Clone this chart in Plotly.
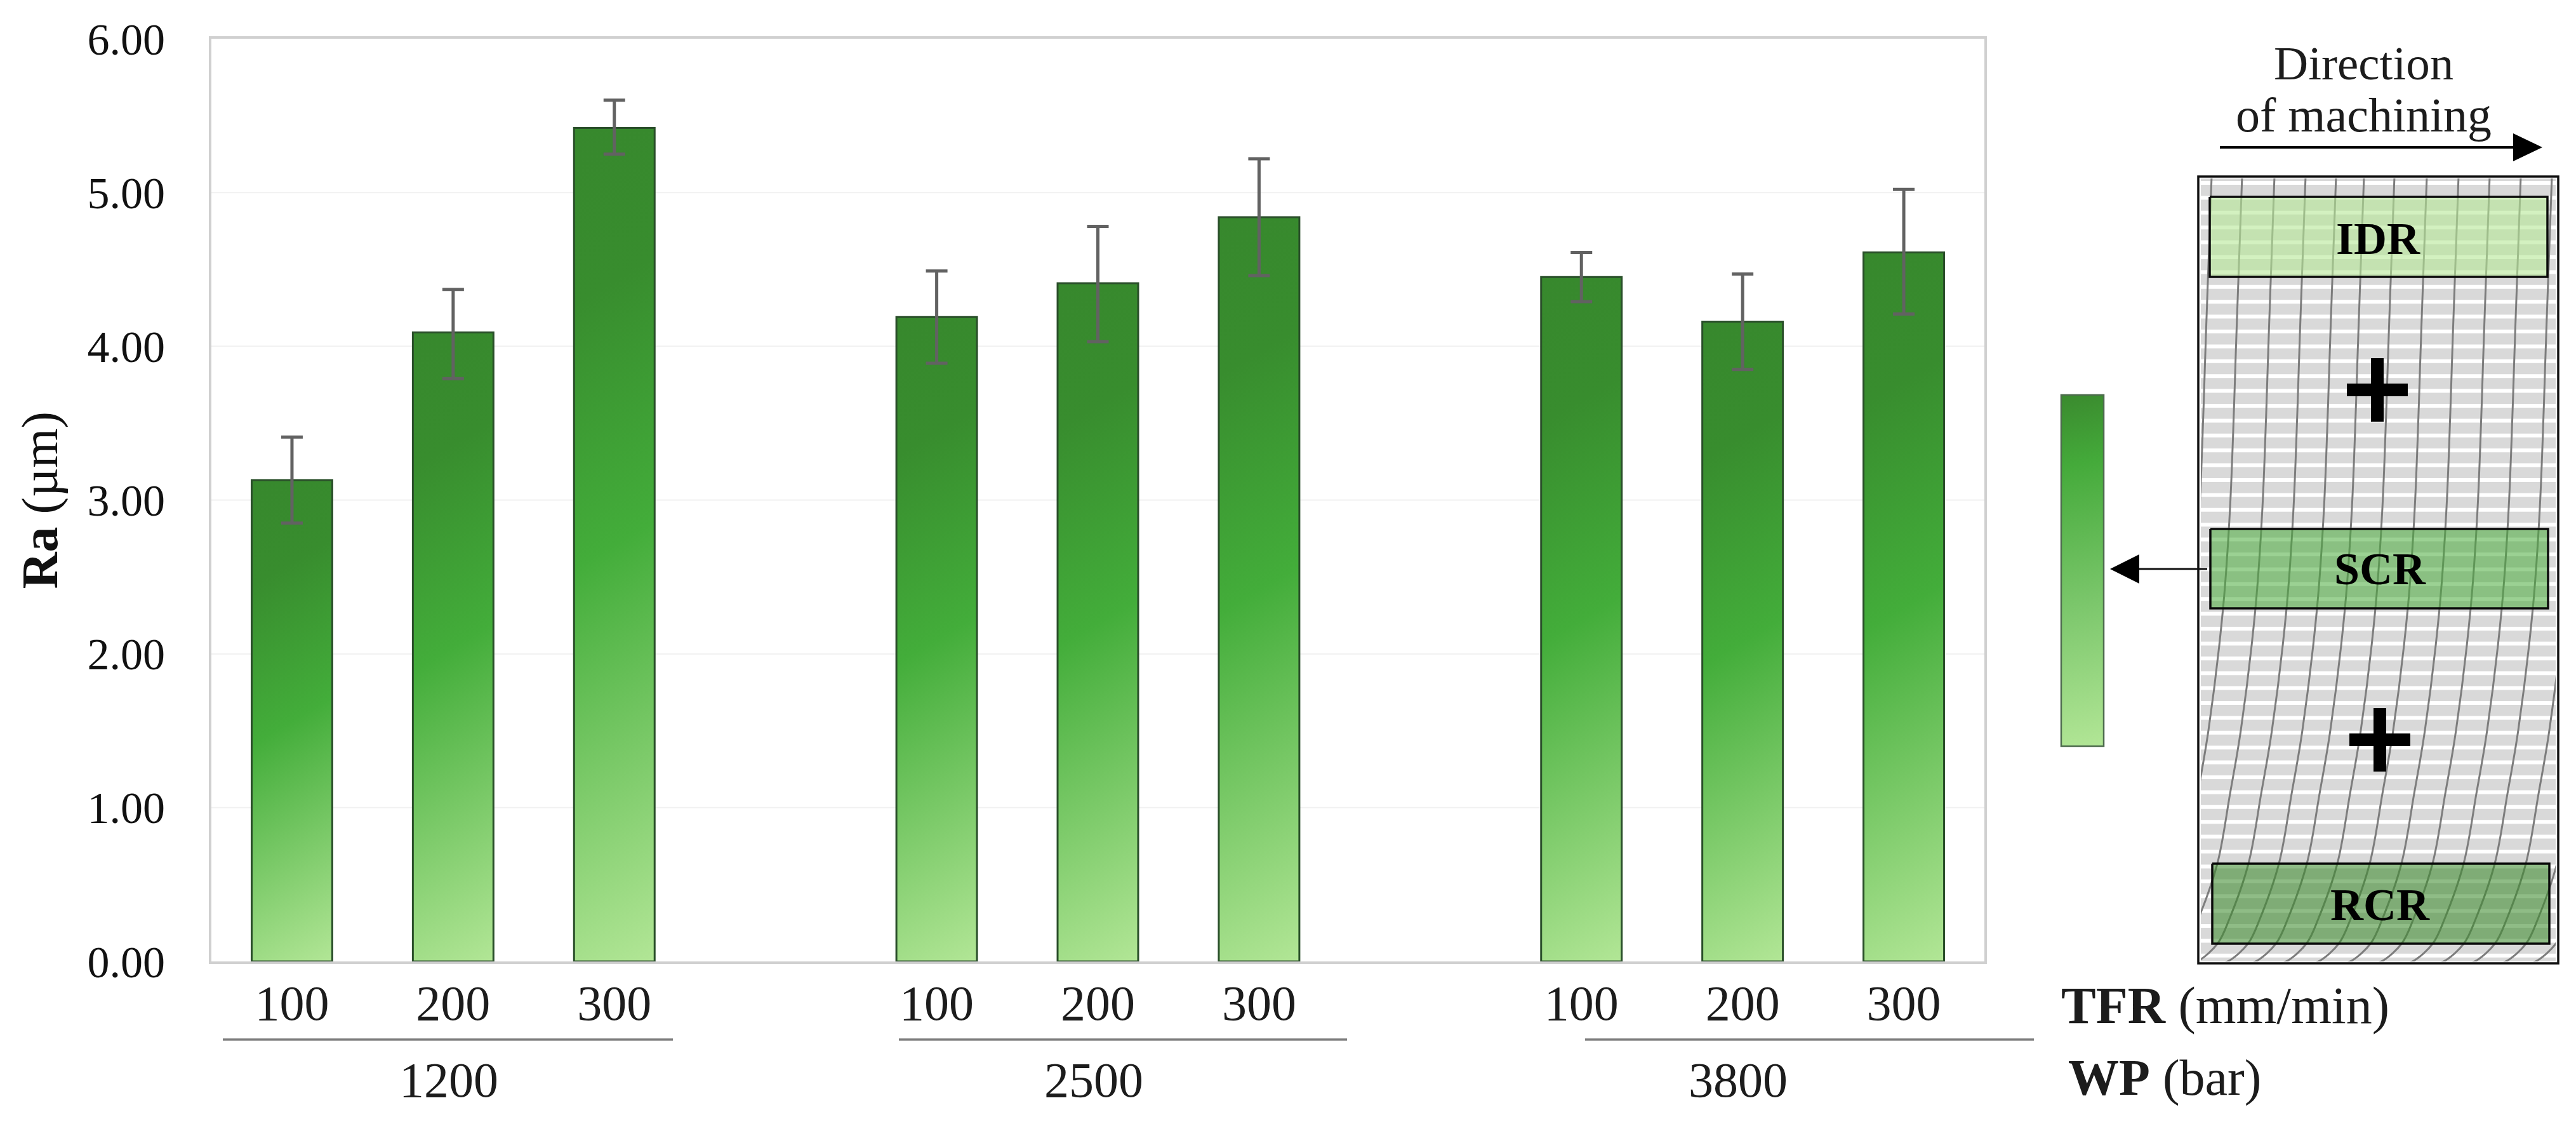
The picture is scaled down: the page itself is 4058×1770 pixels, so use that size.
import base64
import numpy as np
import plotly.graph_objects as go

# ---------- data ----------
slot_positions = [0, 1, 2, 4, 5, 6, 8, 9, 10]
tfr_labels = ["100", "200", "300", "100", "200", "300", "100", "200", "300"]
ra_values = [3.13, 4.09, 5.42, 4.19, 4.41, 4.84, 4.45, 4.16, 4.61]
err_up = [0.28, 0.28, 0.18, 0.30, 0.37, 0.38, 0.16, 0.31, 0.41]
err_down = [0.28, 0.30, 0.17, 0.30, 0.38, 0.38, 0.16, 0.31, 0.40]
y_ticks = [0, 1, 2, 3, 4, 5, 6]
wp_labels = ["1200", "2500", "3800"]
wp_label_px = [707, 1723, 2738]
wp_line_px = [(351, 1060), (1416, 2122), (2497, 3204)]

# workpiece sketch: curved cut lines (top x, then shared lag with depth)
curve_top_x = [3484, 3532, 3583, 3632, 3680, 3724, 3772, 3823, 3873, 3922,
               3971, 4020, 4069, 4118, 4165, 4214]
lag_y = [278, 500, 800, 958, 1150, 1250, 1360, 1447, 1485, 1512, 1517]
lag_dx = [0, 8, 19, 30, 53, 70, 90, 120, 138, 167, 180]
stripe_start, stripe_step, stripe_count = 288, 23.4, 53

W, H = 4058, 1770
PL, PR, PT, PB = 333, 3126, 61, 1514
SERIF = "Liberation Serif"
INK = "#1c1c1c"


def px(x):
    return x / W


def py(y):
    return 1 - y / H


def gradient_uri(w, h, stops, angle=30):
    a = np.radians(angle)
    dx, dy = np.sin(a), np.cos(a)
    length = w * dx + h * dy
    st = "".join(f'<stop offset="{o}" stop-color="{c}"/>' for o, c in stops)
    svg = (f'<svg xmlns="http://www.w3.org/2000/svg" width="{w}" height="{h}" '
           f'viewBox="0 0 {w} {h}" preserveAspectRatio="none"><defs>'
           f'<linearGradient id="g" gradientUnits="userSpaceOnUse" x1="0" y1="0" '
           f'x2="{dx * length:.1f}" y2="{dy * length:.1f}">{st}</linearGradient></defs>'
           f'<rect width="{w}" height="{h}" fill="url(#g)"/></svg>')
    return "data:image/svg+xml;base64," + base64.b64encode(svg.encode()).decode()


BAR_STOPS = [(0, "#37882d"), (0.2, "#388d2e"), (0.5, "#43ad3a"), (1, "#b2e696")]
KEY_STOPS = [(0, "#3a8a2e"), (0.2, "#44aa3a"), (0.6, "#7cc76c"), (1, "#b2e696")]

fig = go.Figure()

# gradient fill under each bar, placed on the data axes
images = []
for xv, val in zip(slot_positions, ra_values):
    images.append(dict(source=gradient_uri(128, int(val * 242), BAR_STOPS),
                       xref="x", yref="y", x=xv - 0.25, y=val, sizex=0.5, sizey=val,
                       xanchor="left", yanchor="top", sizing="stretch", layer="below"))
images.append(dict(source=gradient_uri(67, 554, KEY_STOPS, 12),
                   xref="paper", yref="paper", x=px(3247), y=py(622),
                   sizex=67 / W, sizey=553 / H,
                   xanchor="left", yanchor="top", sizing="stretch", layer="above"))

fig.add_trace(go.Bar(
    x=slot_positions, y=ra_values, width=0.5,
    marker=dict(color="rgba(0,0,0,0)", line=dict(color="#2a4f2a", width=3)),
    error_y=dict(type="data", symmetric=False, array=err_up, arrayminus=err_down,
                 color="#626262", thickness=5, width=17),
    xaxis="x", yaxis="y", showlegend=False))

# ---------- workpiece sketch, on its own hidden pixel axes ----------
L, R, T, B = 3467, 4026, 281, 1514
fig.add_trace(go.Scatter(x=[L, R, R, L, L], y=[T, T, B, B, T], mode="lines", fill="toself",
                         fillcolor="#d9d9d9", line=dict(width=0), xaxis="x2", yaxis="y2",
                         showlegend=False, hoverinfo="skip"))
sx, sy = [], []
for k in range(stripe_count):
    yy = stripe_start + k * stripe_step
    sx += [L, R, None]
    sy += [yy, yy, None]
fig.add_trace(go.Scatter(x=sx, y=sy, mode="lines", line=dict(color="white", width=6),
                         xaxis="x2", yaxis="y2", showlegend=False, hoverinfo="skip"))
for top in curve_top_x:
    fig.add_trace(go.Scatter(x=[top - d for d in lag_dx], y=lag_y, mode="lines",
                             line=dict(color="#7d7d7d", width=3, shape="spline"),
                             xaxis="x2", yaxis="y2", showlegend=False, hoverinfo="skip"))
boxes = [("IDR", 3481, 4013, 310, 436, "rgba(182,232,150,0.6)", 3746, 376),
         ("SCR", 3482, 4014, 833, 958, "rgba(72,171,58,0.55)", 3749, 896),
         ("RCR", 3485, 4016, 1360, 1486, "rgba(62,140,46,0.58)", 3749, 1425)]
annotations = []
for name, x0, x1, y0, y1, col, tx, ty in boxes:
    fig.add_trace(go.Scatter(x=[x0, x1, x1, x0, x0], y=[y0, y0, y1, y1, y0], mode="lines",
                             fill="toself", fillcolor=col, line=dict(color="#0a0a0a", width=3.5),
                             xaxis="x2", yaxis="y2", showlegend=False, hoverinfo="skip"))
    annotations.append(dict(text=f"<b>{name}</b>", x=px(tx), y=py(ty), xref="paper", yref="paper",
                            xanchor="center", yanchor="middle",
                            showarrow=False, font=dict(family=SERIF, size=72, color="black")))
for cx, cy in [(3745, 614), (3749, 1165)]:
    fig.add_trace(go.Scatter(x=[cx - 48, cx + 48, None, cx, cx], y=[cy, cy, None, cy - 50, cy + 50],
                             mode="lines", line=dict(color="black", width=20),
                             xaxis="x2", yaxis="y2", showlegend=False, hoverinfo="skip"))


def note(text, x, y, size, anchor="center"):
    annotations.append(dict(text=text, x=px(x), y=py(y), xref="paper", yref="paper",
                            xanchor=anchor, yanchor="middle", showarrow=False,
                            font=dict(family=SERIF, size=size, color=INK)))


note("Direction", 3723, 99, 75)
note("of machining", 3723, 181, 76)
note("<b>TFR</b> (mm/min)", 3245, 1583, 82, "left")
note("<b>WP</b> (bar)", 3256, 1697, 80, "left")
for lab, xp in zip(wp_labels, wp_label_px):
    note(lab, xp, 1700, 78)


def pline(x0, y0, x1, y1, color, width, layer="above"):
    return dict(type="line", xref="paper", yref="paper", x0=px(x0), y0=py(y0), x1=px(x1), y1=py(y1),
                line=dict(color=color, width=width), layer=layer)


def tri(points):
    path = "M " + " L ".join(f"{px(a):.5f},{py(b):.5f}" for a, b in points) + " Z"
    return dict(type="path", xref="paper", yref="paper", path=path, fillcolor="black",
                line=dict(width=0), layer="above")


shapes = [dict(type="line", xref="x", yref="y", x0=-0.5, x1=10.5, y0=v, y1=v,
               line=dict(color="#f1f1f1", width=2), layer="below") for v in y_ticks[1:-1]]
shapes += [pline(a, 1637, b, 1637, "#7f7f7f", 3.5) for a, b in wp_line_px]
shapes += [
    pline(3497, 232, 3962, 232, "black", 4),
    tri([(3959, 210), (4005, 232), (3959, 254)]),
    pline(3368, 896, 3477, 896, "#111111", 3),
    tri([(3370, 873), (3324, 896), (3370, 919)]),
    dict(type="rect", xref="paper", yref="paper", x0=px(3463), x1=px(4030), y0=py(278), y1=py(1517),
         line=dict(color="#111111", width=3.5), layer="above"),
    dict(type="rect", xref="paper", yref="paper", x0=px(3247), x1=px(3314), y0=py(622), y1=py(1175),
         line=dict(color="#4d6b4d", width=2.5), layer="above"),
]

fig.update_layout(
    width=W, height=H, autosize=False,
    margin=dict(l=0, r=0, t=0, b=0, pad=0),
    paper_bgcolor="white", plot_bgcolor="rgba(0,0,0,0)",
    showlegend=False, bargap=0.5,
    font=dict(family=SERIF, color=INK),
    images=images, shapes=shapes, annotations=annotations,
    xaxis=dict(domain=[px(PL), px(PR)], range=[-0.5, 10.5], anchor="y",
               tickmode="array", tickvals=slot_positions, ticktext=tfr_labels,
               tickfont=dict(family=SERIF, size=78, color=INK), ticks="", ticklabelstandoff=-6,
               showgrid=False, zeroline=False, showline=True, linecolor="#d0d0d0", linewidth=4,
               mirror=True, automargin=False),
    yaxis=dict(domain=[py(PB), py(PT)], range=[0, 6], anchor="x",
               tickmode="array", tickvals=y_ticks, ticktext=[f"{v:.2f}" for v in y_ticks],
               tickfont=dict(family=SERIF, size=70, color="#111111"), ticks="", ticklabelstandoff=55,
               title=dict(text="<b>Ra</b> (µm)", font=dict(family=SERIF, size=80, color="#111111"), standoff=22),
               showgrid=False, zeroline=False, showline=True, linecolor="#d0d0d0", linewidth=4,
               mirror=True, automargin=False),
    xaxis2=dict(domain=[px(L), px(R)], range=[L, R], anchor="y2", visible=False),
    yaxis2=dict(domain=[py(B), py(T)], range=[B, T], anchor="x2", visible=False),
)

fig.write_html("out.html", config=dict(displayModeBar=False),
               post_script="document.body.style.margin='0';")
